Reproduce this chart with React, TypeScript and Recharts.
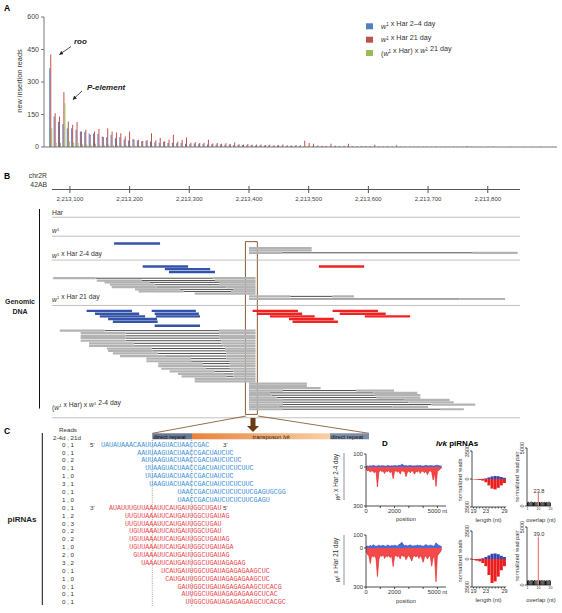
import React from "react";
import {
  BarChart,
  Bar,
  Cell,
  XAxis,
  YAxis,
  ComposedChart,
  Line,
  ReferenceLine,
  ReferenceArea,
  AreaChart,
  Area,
} from "recharts";

const SANS = "'Liberation Sans', Arial, Helvetica, sans-serif";
const MONO = "'Liberation Mono', 'DejaVu Sans Mono', monospace";

// ---------- A: new insertion reads per TE family ----------
const readsHar24 = [
  363, 141, 115, 106, 87, 87, 80, 72, 69, 62,
  61, 60, 48, 45, 55, 40, 46, 35, 30, 37,
  30, 26, 28, 25, 22, 20, 24, 18, 20, 17,
  18, 15, 14, 16, 13, 14, 12, 13, 11, 12,
  10, 11, 9, 10, 9, 8, 9, 7, 8, 7,
  7, 6, 7, 6, 5, 6, 5, 5, 4, 5,
  4, 4, 3, 4, 3, 3, 3, 2, 3, 2,
  2, 2, 2, 1, 2, 1, 1, 2, 1, 1,
  1, 1, 0, 1, 1, 0, 1, 0, 1, 0,
  1, 0, 0, 1, 0, 0, 1, 0, 0, 0,
  1, 0, 0, 0, 0, 1, 0, 0, 0, 0,
  0, 0, 1, 0, 0, 0,
];
const readsHar21 = [
  427, 156, 141, 253, 118, 103, 115, 72, 80, 57,
  72, 83, 46, 87, 72, 67, 64, 49, 72, 35,
  33, 28, 32, 64, 31, 41, 27, 33, 57, 25,
  34, 44, 20, 22, 18, 20, 34, 16, 18, 15,
  17, 14, 21, 13, 12, 14, 10, 12, 11, 9,
  10, 8, 9, 12, 8, 7, 9, 8, 29, 18,
  15, 7, 6, 5, 15, 6, 5, 6, 15, 5,
  4, 3, 4, 3, 10, 3, 2, 4, 2, 8,
  2, 1, 2, 1, 1, 2, 1, 1, 2, 1,
  1, 1, 2, 1, 1, 5, 1, 1, 1, 0,
  1, 1, 0, 1, 0, 1, 1, 0, 1, 0,
  1, 0, 1, 0, 1, 0,
];
const readsCross21 = [
  87, 18, 18, 202, 26, 21, 18, 11, 11, 8,
  15, 10, 8, 12, 9, 7, 6, 8, 5, 6,
  5, 4, 6, 4, 3, 5, 3, 4, 3, 2,
  3, 2, 3, 2, 2, 3, 2, 2, 1, 2,
  2, 1, 2, 1, 1, 2, 1, 1, 1, 1,
  1, 1, 1, 0, 1, 1, 0, 1, 1, 0,
  1, 0, 1, 0, 0, 1, 0, 0, 1, 0,
  0, 1, 0, 0, 0, 1, 0, 0, 0, 0,
  0, 0, 1, 0, 0, 0, 0, 0, 0, 0,
  0, 0, 0, 0, 0, 0, 0, 0, 0, 0,
  0, 0, 0, 0, 0, 0, 0, 0, 0, 0,
  0, 0, 0, 0, 0, 0,
];
const teFamilies = readsHar24.map((_, i) =>
  i === 0 ? "roo" : i === 3 ? "P-element" : `TE ${i + 1}`
);
const insertionData = teFamilies.map((te, i) => ({
  te,
  har24: readsHar24[i],
  har21: readsHar21[i],
  cross21: readsCross21[i],
}));
const insertionTicks = [0, 150, 300, 450, 600];

// ---------- B: reads at the lvk insertion site, chr2R 42AB ----------
const genomeTicks = [
  2213100, 2213200, 2213300, 2213400, 2213500, 2213600, 2213700, 2213800,
];
const trackBorders = [10.7, 18.0, 27.2, 44.7, 88.0];
// [start, end, lane]
const blueReads = [
  [2213174, 2213251, 20.8],
  [2213222, 2213298, 29.7],
  [2213259, 2213335, 30.7],
  [2213266, 2213343, 31.8],
  [2213128, 2213204, 46.8],
  [2213237, 2213311, 46.8],
  [2213142, 2213216, 47.9],
  [2213242, 2213316, 47.9],
  [2213150, 2213226, 48.9],
  [2213244, 2213318, 48.9],
  [2213164, 2213246, 49.9],
  [2213172, 2213247, 51.0],
  [2213242, 2213318, 52.5],
];
const redReads = [
  [2213517, 2213593, 29.7],
  [2213406, 2213482, 46.8],
  [2213540, 2213616, 46.8],
  [2213413, 2213489, 47.9],
  [2213552, 2213629, 47.9],
  [2213435, 2213510, 48.9],
  [2213594, 2213670, 48.9],
  [2213467, 2213542, 49.9],
  [2213473, 2213549, 51.0],
];
const graySingles = [
  [2213400, 2213505, 22.6],
  [2213400, 2213505, 23.5],
  [2213309, 2213411, 40.1],
  [2213309, 2213411, 73.0],
  [2213309, 2213411, 74.0],
  [2213400, 2213497, 74.8],
  [2213400, 2213497, 75.7],
  [2213400, 2213520, 76.6],
];
// [leftStart, leftEnd, rightStart, rightEnd, lane]
const grayPairs = [
  [2213400, 2213455, 2213775, 2213850, 24.4],
  [2213072, 2213143, 2213340, 2213411, 34.2],
  [2213145, 2213220, 2213343, 2213411, 35.1],
  [2213158, 2213233, 2213351, 2213411, 35.8],
  [2213167, 2213242, 2213351, 2213411, 36.7],
  [2213170, 2213245, 2213362, 2213411, 37.6],
  [2213209, 2213284, 2213374, 2213411, 38.5],
  [2213215, 2213290, 2213370, 2213411, 39.3],
  [2213400, 2213469, 2213540, 2213576, 41.2],
  [2213400, 2213469, 2213753, 2213829, 42.2],
  [2213083, 2213158, 2213350, 2213411, 54.4],
  [2213118, 2213193, 2213350, 2213411, 55.4],
  [2213118, 2213193, 2213350, 2213411, 56.4],
  [2213118, 2213193, 2213351, 2213411, 57.3],
  [2213118, 2213193, 2213354, 2213411, 58.3],
  [2213132, 2213207, 2213354, 2213411, 59.3],
  [2213132, 2213207, 2213357, 2213411, 60.3],
  [2213162, 2213237, 2213360, 2213411, 61.3],
  [2213164, 2213239, 2213360, 2213411, 62.2],
  [2213172, 2213247, 2213362, 2213411, 63.2],
  [2213184, 2213259, 2213362, 2213411, 64.2],
  [2213228, 2213303, 2213362, 2213411, 65.2],
  [2213228, 2213303, 2213368, 2213411, 66.2],
  [2213248, 2213323, 2213368, 2213411, 67.1],
  [2213248, 2213323, 2213368, 2213411, 68.1],
  [2213253, 2213328, 2213368, 2213411, 69.1],
  [2213267, 2213342, 2213374, 2213411, 70.1],
  [2213281, 2213356, 2213374, 2213411, 71.1],
  [2213287, 2213362, 2213374, 2213411, 72.0],
  [2213400, 2213457, 2213580, 2213643, 77.5],
  [2213400, 2213435, 2213608, 2213682, 78.4],
  [2213400, 2213438, 2213611, 2213687, 79.3],
  [2213400, 2213446, 2213614, 2213687, 80.2],
  [2213400, 2213457, 2213661, 2213736, 81.1],
  [2213400, 2213457, 2213667, 2213743, 82.0],
  [2213400, 2213457, 2213706, 2213779, 82.9],
  [2213400, 2213450, 2213640, 2213700, 83.8],
  [2213400, 2213457, 2213720, 2213760, 84.7],
];
const lvkBox = [2213394, 2213414, 20.1, 86.7];

const grayPieces = [
  ...graySingles,
  ...grayPairs.flatMap(([ls, le, rs, re, lane]) => [
    [ls, le, lane],
    [rs, re, lane],
  ]),
];
const linkPieces = grayPairs.map(([, le, rs, , lane]) => [le, rs, lane]);

// ---------- C: piRNAs ----------
const piReadCounts = [
  "0 , 1", "0 , 1", "0 , 2", "0 , 1", "1 , 0", "3 , 1", "0 , 1", "1 , 0",
  "0 , 1", "1 , 2", "0 , 3", "0 , 2", "0 , 2", "1 , 0", "2 , 0", "3 , 2",
  "0 , 1", "1 , 0", "0 , 1", "0 , 1", "0 , 1",
];
const piSeqs = [
  "UAUAUAAACAAUUAAGUACUAACCGAC",
  "AAUUAAGUACUAACCGACUAUCUC",
  "AUUAAGUACUAACCGACUAUCUCUC",
  "UUAAGUACUAACCGACUAUCUCUCUUC",
  "UUAAGUACUAACCGACUAUCUC",
  "UAAGUACUAACCGACUAUCUCUCUUC",
  "UAACCGACUAUCUCUCUUCGAGUGCGG",
  "UAACCGACUAUCUCUCUUCGAGU",
  "AUAUUUGUUAAAUUCAUGAUUGGCUGAU",
  "UUGUUAAAUUCAUGAUUGGCUGAUAG",
  "UUGUUAAAUUCAUGAUUGGCUGAU",
  "UGUUAAAUUCAUGAUUGGCUGAU",
  "UGUUAAAUUCAUGAUUGGCUGAUAG",
  "UGUUAAAUUCAUGAUUGGCUGAUAGA",
  "GUUAAAUUCAUGAUUGGCUGAUAG",
  "UAAAUUCAUGAUUGGCUGAUAGAGAG",
  "UCAUGAUUGGCUGAUAGAGAGAAGCUC",
  "CAUGAUUGGCUGAUAGAGAGAAGCUC",
  "GAUUGGCUGAUAGAGAGAAGCUCACG",
  "AUUGGCUGAUAGAGAGAAGCUCAC",
  "UUGGCUGAUAGAGAGAAGCUCACGC",
];
const piOffsets = [0, 9, 10, 11, 11, 12, 19, 19, 2, 6, 6, 7, 7, 7, 8, 10, 15, 16, 19, 20, 21];
const piSense = [1, 1, 1, 1, 1, 1, 1, 1, 0, 0, 0, 0, 0, 0, 0, 0, 0, 0, 0, 0, 0];

// ---------- D: lvk piRNA profiles ----------
const posBins = [
  0, 100, 200, 300, 400, 500, 600, 700, 800, 900,
  1000, 1100, 1200, 1300, 1400, 1500, 1600, 1700, 1800, 1900,
  2000, 2100, 2200, 2300, 2400, 2500, 2600, 2700, 2800, 2900,
  3000, 3100, 3200, 3300, 3400, 3500, 3600, 3700, 3800, 3900,
  4000, 4100, 4200, 4300, 4400, 4500, 4600, 4700, 4800, 4900,
  5000, 5100, 5200, 5300,
];
const senseYoung = [
  5, 8, 6, 10, 7, 12, 9, 6, 8, 11, 7, 9, 10, 8, 6, 12, 9, 7, 10, 8,
  11, 9, 7, 13, 10, 22, 15, 9, 11, 8, 10, 12, 9, 7, 10, 8, 12, 9, 11, 8,
  7, 10, 13, 9, 8, 11, 10, 7, 9, 12, 14, 10, 8, 6,
];
const antiYoung = [
  -15, -30, -25, -40, -28, -35, -45, -30, -154, -40, -25, -35, -30, -50, -28, -38, -25, -45, -30, -90,
  -35, -28, -40, -30, -55, -25, -35, -30, -75, -40, -30, -45, -28, -35, -55, -30, -40, -25, -50, -30,
  -35, -45, -30, -60, -35, -28, -40, -100, -45, -150, -35, -25, -15, -5,
];
const senseOld = [
  10, 15, 12, 20, 14, 25, 18, 12, 16, 22, 15, 18, 20, 16, 12, 24, 18, 14, 20, 16,
  22, 18, 14, 26, 30, 45, 28, 18, 22, 16, 20, 24, 18, 14, 20, 16, 24, 18, 22, 16,
  14, 20, 26, 18, 16, 22, 20, 14, 18, 40, 28, 20, 16, 10,
];
const antiOld = [
  -25, -50, -60, -120, -55, -70, -60, -80, -220, -90, -55, -65, -50, -80, -60, -70, -55, -75, -60, -143,
  -65, -55, -70, -60, -85, -50, -65, -60, -90, -70, -55, -75, -100, -65, -60, -70, -55, -80, -60, -75,
  -110, -70, -60, -85, -65, -60, -140, -70, -75, -260, -60, -45, -30, -10,
];
const lengths = [19, 20, 21, 22, 23, 24, 25, 26, 27, 28, 29];
const lenSenseYoung = [0, 0, 0, 20, 80, 200, 320, 380, 350, 250, 150];
const lenAntiYoung = [-50, -80, -120, -200, -400, -800, -1200, -1300, -1100, -800, -500];
const lenSenseOld = [0, 0, 30, 100, 250, 450, 650, 700, 600, 400, 250];
const lenAntiOld = [-100, -200, -300, -500, -900, -2000, -3000, -2800, -2200, -1400, -900];
const overlaps = [1, 2, 3, 4, 5, 6, 7, 8, 9, 10, 11, 12, 13, 14, 15, 16, 17, 18, 19, 20];
const pairsYoung = [320, 360, 300, 380, 340, 300, 360, 330, 350, 1120, 340, 310, 370, 320, 350, 300, 340, 320, 360, 310];
const pairsOld = [380, 420, 360, 440, 400, 370, 430, 390, 410, 4150, 400, 380, 440, 390, 420, 370, 410, 380, 430, 390];

const posRows = (sense: number[], anti: number[]) =>
  posBins.map((pos, i) => ({ pos, sense: sense[i], anti: anti[i] }));
const lenRows = (sense: number[], anti: number[]) =>
  lengths.map((nt, i) => ({ nt, sense: sense[i], anti: anti[i] }));
const ovRows = (pairs: number[]) => overlaps.map((ov, i) => ({ ov, pairs: pairs[i] }));

const AX = { stroke: "#222", strokeWidth: 0.8 };

const GenomeTick = (props: any) => {
  const { x, y, payload } = props;
  return (
    <g>
      <line x1={x} x2={x} y1={y - 3.5} y2={y + 3.5} stroke="#555" />
      <text x={x} y={y + 11.5} textAnchor="middle" fontSize={6} fill="#444" fontFamily={SANS}>
        {payload.value.toLocaleString("en-US")}
      </text>
    </g>
  );
};

const rotTick = (props: any) => {
  const { x, y, payload } = props;
  return (
    <text
      x={x}
      y={y}
      transform={`rotate(-90 ${x} ${y})`}
      textAnchor="middle"
      fontSize={5.5}
      fill="#333"
      fontFamily={SANS}
    >
      {Math.abs(payload.value)}
    </text>
  );
};

// one Line per read, so each read is its own short segment
const readLines = (reads: number[][], tag: string, stroke: string, width: number) =>
  reads.map(([s, e, lane], i) => (
    <Line
      key={`${tag}${i}`}
      data={[
        { pos: s, lane },
        { pos: e, lane },
      ]}
      dataKey="lane"
      stroke={stroke}
      strokeWidth={width}
      dot={false}
      activeDot={false}
      isAnimationActive={false}
    />
  ));

function PositionPlot({ sense, anti }: { sense: number[]; anti: number[] }) {
  return (
    <AreaChart width={120} height={80} data={posRows(sense, anti)} margin={{ top: 12, right: 4, bottom: 0, left: 0 }}>
      <XAxis
        dataKey="pos"
        type="number"
        domain={[0, 5600]}
        ticks={[0, 1000, 2000, 3000, 4000, 5000]}
        tickFormatter={(v) => (v === 0 ? "0" : v === 2000 ? "2000" : v === 5000 ? "5000 nt" : "")}
        height={16}
        tickSize={2}
        tickMargin={1}
        interval={0}
        tick={{ fontSize: 5.8, fill: "#333" }}
        axisLine={AX}
        tickLine={AX}
      />
      <YAxis
        domain={[-300, 100]}
        ticks={[-300, 0, 100]}
        tickFormatter={(v) => String(Math.abs(v))}
        width={36}
        tickSize={2}
        tickMargin={1}
        interval={0}
        tick={{ fontSize: 5.8, fill: "#333" }}
        axisLine={AX}
        tickLine={AX}
      />
      <Area dataKey="anti" type="linear" baseValue={0} stroke="#e81c1c" strokeWidth={0.6} fill="#f02a2a" fillOpacity={0.85} isAnimationActive={false} />
      <Area dataKey="sense" type="linear" baseValue={0} stroke="#2040c0" strokeWidth={0.6} fill="#3a5bd0" fillOpacity={0.9} isAnimationActive={false} />
    </AreaChart>
  );
}

function LengthPlot({ sense, anti }: { sense: number[]; anti: number[] }) {
  return (
    <BarChart width={68} height={80} data={lenRows(sense, anti)} margin={{ top: 12, right: 2, bottom: 0, left: 0 }} stackOffset="sign" barCategoryGap={0} barGap={0}>
      <XAxis
        dataKey="nt"
        height={12}
        interval={0}
        tickSize={1.5}
        tickMargin={0.5}
        tickFormatter={(v) => ([19, 23, 29].includes(v) ? String(v) : "")}
        tick={{ fontSize: 5.5, fill: "#333" }}
        axisLine={AX}
        tickLine={AX}
      />
      <YAxis domain={[-3500, 3500]} ticks={[-3500, 0, 3500]} width={32} tickSize={2} tickMargin={1} interval={0} tick={rotTick} axisLine={AX} tickLine={AX} allowDataOverflow />
      <Bar dataKey="sense" stackId="s" fill="#3447b0" isAnimationActive={false} />
      <Bar dataKey="anti" stackId="s" fill="#ea1e1e" isAnimationActive={false} />
    </BarChart>
  );
}

function OverlapPlot({ pairs }: { pairs: number[] }) {
  const rows = ovRows(pairs);
  return (
    <BarChart width={57} height={80} data={rows} margin={{ top: 12, right: 3, bottom: 0, left: 0 }} barCategoryGap={0} barGap={0}>
      <XAxis
        dataKey="ov"
        height={10}
        interval={0}
        tickSize={1}
        tickMargin={0.5}
        tickFormatter={(v) => ([1, 10, 20].includes(v) ? String(v) : "")}
        tick={{ fontSize: 3.5, fill: "#333" }}
        axisLine={AX}
        tickLine={false}
      />
      <YAxis domain={[0, 5000]} ticks={[0, 5000]} width={30} tickSize={2} tickMargin={1} interval={0} tick={rotTick} axisLine={AX} tickLine={AX} />
      <Bar dataKey="pairs" isAnimationActive={false}>
        {rows.map((r) => (
          <Cell key={r.ov} fill={r.ov === 10 ? "#e46464" : "#111"} />
        ))}
      </Bar>
    </BarChart>
  );
}

const W1 = ({ fs }: { fs: number }) => (
  <>
    <tspan fontStyle="italic">w</tspan>
    <tspan fontSize={fs * 0.62} dy={-fs * 0.35}>1</tspan>
    <tspan dy={fs * 0.35}>{""}</tspan>
  </>
);

const SEQ_X = 101;
const CH = 4.02;
const rowY = (i: number) => 446.7 + i * 7.88;

export default function App() {
  return (
    <div style={{ position: "fixed", left: 0, top: 0, width: 562, height: 613, background: "#fff", fontFamily: SANS, overflow: "hidden" }}>
      {/* A */}
      <div style={{ position: "absolute", left: 0, top: 0 }}>
        <BarChart width={562} height={160} data={insertionData} margin={{ top: 17, right: 5, bottom: 12, left: 14 }} barCategoryGap="6%" barGap={0}>
          <XAxis dataKey="te" tick={false} tickLine={false} height={1} axisLine={{ stroke: "#777" }} padding={{ left: 5, right: 0 }} />
          <YAxis domain={[0, 600]} ticks={insertionTicks} width={30} tickSize={3} interval={0} tick={{ fontSize: 7, fill: "#444" }} axisLine={{ stroke: "#777" }} tickLine={{ stroke: "#777" }} />
          <Bar dataKey="har24" fill="#4f81bd" isAnimationActive={false} />
          <Bar dataKey="har21" fill="#c0504d" isAnimationActive={false} />
          <Bar dataKey="cross21" fill="#9bbb59" isAnimationActive={false} />
        </BarChart>
      </div>

      {/* B */}
      <div style={{ position: "absolute", left: 0, top: 160 }}>
        <ComposedChart width={562} height={264} margin={{ top: 0, right: 42, bottom: 0.5, left: 52 }}>
          <XAxis
            type="number"
            dataKey="pos"
            orientation="top"
            domain={[2213070, 2213854]}
            ticks={genomeTicks}
            interval={0}
            height={29.5}
            tickSize={0}
            tickMargin={0}
            tick={GenomeTick}
            axisLine={{ stroke: "#555", strokeWidth: 1 }}
            tickLine={false}
            allowDataOverflow
          />
          <YAxis type="number" dataKey="lane" domain={[0, 90.2]} reversed hide allowDataOverflow />
          {trackBorders.map((lane) => (
            <ReferenceLine key={lane} y={lane} stroke="#b0b0b0" strokeWidth={0.8} />
          ))}
          {readLines(linkPieces, "k", "#222", 0.8)}
          {readLines(grayPieces, "g", "#b3b3b3", 2.2)}
          {readLines(blueReads, "b", "#3553a8", 2.4)}
          {readLines(redReads, "r", "#f02323", 2.4)}
          <ReferenceArea x1={lvkBox[0]} x2={lvkBox[1]} y1={lvkBox[2]} y2={lvkBox[3]} fill="none" stroke="#7a4a22" strokeWidth={0.9} />
        </ComposedChart>
      </div>

      {/* D charts */}
      <div style={{ position: "absolute", left: 330, top: 442 }}>
        <PositionPlot sense={senseYoung} anti={antiYoung} />
      </div>
      <div style={{ position: "absolute", left: 330, top: 522.5 }}>
        <PositionPlot sense={senseOld} anti={antiOld} />
      </div>
      <div style={{ position: "absolute", left: 440, top: 439 }}>
        <LengthPlot sense={lenSenseYoung} anti={lenAntiYoung} />
      </div>
      <div style={{ position: "absolute", left: 440, top: 519 }}>
        <LengthPlot sense={lenSenseOld} anti={lenAntiOld} />
      </div>
      <div style={{ position: "absolute", left: 497, top: 436 }}>
        <OverlapPlot pairs={pairsYoung} />
      </div>
      <div style={{ position: "absolute", left: 497, top: 515 }}>
        <OverlapPlot pairs={pairsOld} />
      </div>

      {/* labels and annotations */}
      <svg width={562} height={613} style={{ position: "absolute", left: 0, top: 0, pointerEvents: "none" }} fontFamily={SANS}>
        <defs>
          <marker id="arr" viewBox="0 0 10 10" refX="9" refY="5" markerWidth="5" markerHeight="5" orient="auto">
            <path d="M0,0 L10,5 L0,10 z" fill="#222" />
          </marker>
          <linearGradient id="tpGrad" x1="0" x2="1" y1="0" y2="0">
            <stop offset="0" stopColor="#e8823a" />
            <stop offset="1" stopColor="#f8d0a6" />
          </linearGradient>
        </defs>

        {/* A */}
        <text x={4} y={11} fontSize={8.5} fontWeight="bold">A</text>
        <text transform="translate(22,81) rotate(-90)" textAnchor="middle" fontSize={7.3} fill="#333">new insertion reads</text>
        <text x={74} y={43.5} fontSize={8} fontWeight="bold" fontStyle="italic" fill="#222">roo</text>
        <line x1={71} y1={46.5} x2={59.5} y2={54.5} stroke="#222" strokeWidth={0.8} markerEnd="url(#arr)" />
        <text x={87} y={89.5} fontSize={8} fontWeight="bold" fontStyle="italic" fill="#222">P-element</text>
        <line x1={82} y1={91} x2={73} y2={99.5} stroke="#222" strokeWidth={0.8} markerEnd="url(#arr)" />
        <rect x={366} y={23.3} width={7} height={6} fill="#4f81bd" />
        <rect x={366} y={36.7} width={7} height={6} fill="#c0504d" />
        <rect x={366} y={50} width={7} height={6} fill="#9bbb59" />
        <text x={381} y={29} fontSize={7.2} fill="#333"><W1 fs={7.2} /> x Har 2–4 day</text>
        <text x={381} y={42.4} fontSize={7.2} fill="#333"><W1 fs={7.2} /> x Har 21 day</text>
        <text x={381} y={55.7} fontSize={7.2} fill="#333">(<W1 fs={7.2} /> x Har) x <W1 fs={7.2} /> 21 day</text>

        {/* B */}
        <text x={4} y={178.5} fontSize={8.5} fontWeight="bold">B</text>
        <text x={47} y={178} textAnchor="end" fontSize={6.8} fill="#333">chr2R</text>
        <text x={47} y={186.5} textAnchor="end" fontSize={6.8} fill="#333">42AB</text>
        <text x={52} y={214.5} fontSize={6.8} fill="#333">Har</text>
        <text x={52} y={233} fontSize={6.8} fill="#333"><W1 fs={6.8} /></text>
        <text x={52} y={258} fontSize={6.8} fill="#333"><W1 fs={6.8} /> x Har 2-4 day</text>
        <text x={52} y={301.5} fontSize={6.8} fill="#333"><W1 fs={6.8} /> x Har 21 day</text>
        <text x={52} y={409.5} fontSize={6.8} fill="#333">(<W1 fs={6.8} /> x Har) x <W1 fs={6.8} /> 2-4 day</text>
        <line x1={39.5} x2={39.5} y1={209} y2={408.5} stroke="#111" strokeWidth={1} />
        <text x={20} y={304} textAnchor="middle" fontSize={7} fontWeight="bold" fill="#222">Genomic</text>
        <text x={20} y={314} textAnchor="middle" fontSize={7} fontWeight="bold" fill="#222">DNA</text>
        <line x1={246} y1={416} x2={152.3} y2={433.3} stroke="#7a4a22" strokeWidth={0.8} />
        <line x1={258} y1={416} x2={369} y2={433.3} stroke="#7a4a22" strokeWidth={0.8} />
        <rect x={250.5} y={418} width={5} height={8} fill="#6a3c14" />
        <path d="M247,426 L259,426 L253,432 z" fill="#6a3c14" />

        {/* C */}
        <text x={4} y={433.5} fontSize={8.5} fontWeight="bold">C</text>
        <text x={68} y={432} textAnchor="middle" fontSize={6.2} fill="#333">Reads</text>
        <text x={67} y={439.5} textAnchor="middle" fontSize={6.2} fill="#333">2-4d , 21d</text>
        <line x1={42.3} x2={42.3} y1={433} y2={605} stroke="#111" strokeWidth={1} />
        <text x={22} y={521.5} textAnchor="middle" fontSize={8} fontWeight="bold" fill="#222">piRNAs</text>
        <rect x={152.3} y={433.3} width={39.7} height={6} fill="#6a7891" />
        <rect x={192} y={433.3} width={138} height={6} fill="url(#tpGrad)" />
        <rect x={330} y={433.3} width={39} height={6} fill="#7f8ca5" />
        <text x={153.5} y={438.5} fontSize={5.8} fill="#111">direct repeat</text>
        <text x={290} y={438.5} textAnchor="end" fontSize={5.8} fill="#222">transposon <tspan fontStyle="italic">lvk</tspan></text>
        <text x={331} y={438.5} fontSize={5.8} fill="#111">direct repeat</text>
        <line x1={152.3} x2={152.3} y1={440} y2={606} stroke="#666" strokeWidth={0.6} strokeDasharray="1 1.2" />
        <line x1={191.7} x2={191.7} y1={440} y2={606} stroke="#666" strokeWidth={0.6} strokeDasharray="1 1.2" />
        {piReadCounts.map((c, i) => (
          <text key={`c${i}`} x={68} y={rowY(i)} textAnchor="middle" fontSize={6.2} fill="#333">{c}</text>
        ))}
        {piSeqs.map((s, i) => (
          <text key={`s${i}`} x={SEQ_X + piOffsets[i] * CH} y={rowY(i)} fontSize={6.7} fontFamily={MONO} fill={piSense[i] ? "#3d8fd6" : "#e8474f"}>{s}</text>
        ))}
        <text x={90} y={rowY(0)} fontSize={6.2} fill="#333">5'</text>
        <text x={223} y={rowY(0)} fontSize={6.2} fill="#333">3'</text>
        <text x={90} y={rowY(8)} fontSize={6.2} fill="#333">3'</text>
        <text x={223} y={rowY(8)} fontSize={6.2} fill="#333">5'</text>

        {/* D */}
        <text x={385} y={446} textAnchor="middle" fontSize={8} fontWeight="bold">D</text>
        <text x={457} y={446} textAnchor="middle" fontSize={8} fontWeight="bold"><tspan fontStyle="italic">lvk</tspan> piRNAs</text>
        <line x1={344} x2={344} y1={453} y2={500} stroke="#777" strokeWidth={0.8} />
        <line x1={344} x2={344} y1={535} y2={585} stroke="#777" strokeWidth={0.8} />
        <text transform="translate(340,477) rotate(-90)" textAnchor="middle" fontSize={6.3} fill="#333"><W1 fs={6.3} /> x Har 2-4 day</text>
        <text transform="translate(340,560) rotate(-90)" textAnchor="middle" fontSize={6.3} fill="#333"><W1 fs={6.3} /> x Har 21 day</text>
        <text x={406} y={521} textAnchor="middle" fontSize={5.8} fill="#333">position</text>
        <text x={406} y={602.5} textAnchor="middle" fontSize={5.8} fill="#333">position</text>
        <text x={488.5} y={521.5} textAnchor="middle" fontSize={5.8} fill="#333">length (nt)</text>
        <text x={488.5} y={601.5} textAnchor="middle" fontSize={5.8} fill="#333">length (nt)</text>
        <text x={541} y={521.5} textAnchor="middle" fontSize={5.8} fill="#333">overlap (nt)</text>
        <text x={541} y={601.5} textAnchor="middle" fontSize={5.8} fill="#333">overlap (nt)</text>
        <text transform="translate(461.5,480) rotate(-90)" textAnchor="middle" fontSize={5.6} fill="#333">normalized reads</text>
        <text transform="translate(461.5,561) rotate(-90)" textAnchor="middle" fontSize={5.6} fill="#333">normalized reads</text>
        <text transform="translate(518.5,477) rotate(-90)" textAnchor="middle" fontSize={5.6} fill="#333">normalized read pair</text>
        <text transform="translate(518.5,556) rotate(-90)" textAnchor="middle" fontSize={5.6} fill="#333">normalized read pair</text>
        <text x={539} y={493} textAnchor="middle" fontSize={5.6} fill="#333">23.8</text>
        <text x={539} y={536} textAnchor="middle" fontSize={5.6} fill="#333">39.0</text>
      </svg>
    </div>
  );
}
